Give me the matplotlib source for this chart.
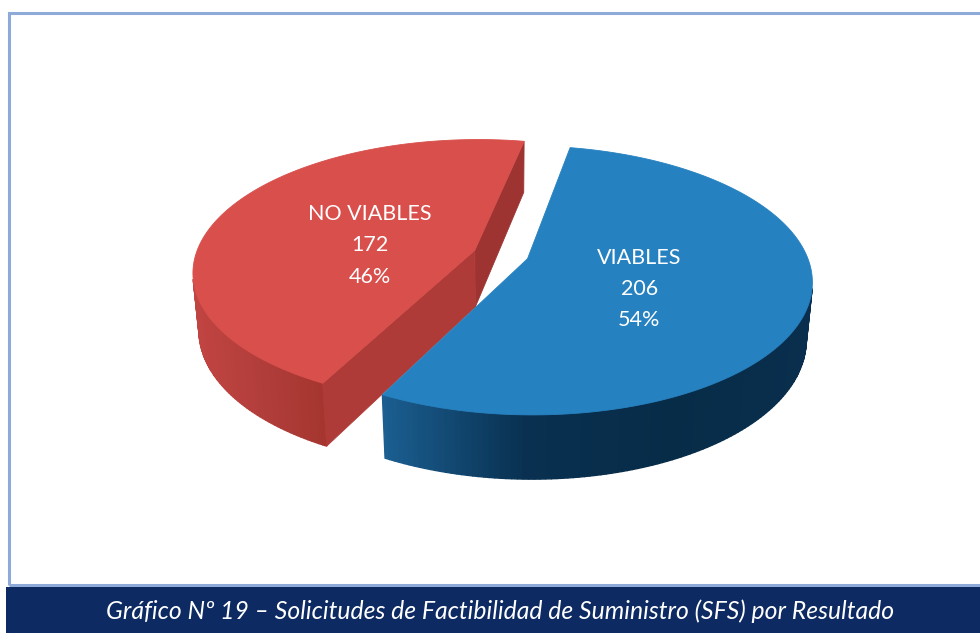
import numpy as np
import matplotlib.pyplot as plt
from matplotlib.patches import Polygon, Rectangle
from matplotlib.colors import LinearSegmentedColormap, Normalize

# datos del gráfico
labels = ['VIABLES', 'NO VIABLES']
values = [206, 172]
top_colors = ['#2681c0', '#d84f4c']
wall_colors = [['#1b5f92', '#093050', '#072c48', '#0a2f4e'],
               ['#c24542', '#b23e3b', '#a5352f']]
radial_colors = ['#0b3354', '#9d3432']
title = 'Gráfico Nº 19 – Solicitudes de Factibilidad de Suministro (SFS) por Resultado'

start_angle = 79      # grados, las porciones van en sentido horario
explode = 0.1

# cámara (pie 3D con perspectiva)
elev = np.radians(27.7)
dist = 5.54
depth = 0.235
scale = 279           # px por radio
W, H = 980, 633
cx_px, cy_px = 501, 254.5

plt.rcParams['font.family'] = ['Lato', 'DejaVu Sans']

cam = np.array([0.0, -dist * np.cos(elev), dist * np.sin(elev)])


def proj(x, y, z):
    x = np.asarray(x, float)
    y = np.asarray(y, float)
    z = np.asarray(z, float)
    d = y * np.cos(elev) - z * np.sin(elev)
    f = dist / (dist + d)
    return x * f, (y * np.sin(elev) + z * np.cos(elev)) * f


def visible(p, n):
    return np.dot(n, cam - p) > 0


fig = plt.figure(figsize=(W / 100, H / 100), dpi=100)
ax = fig.add_axes([0, 0, 1, 1])
ax.set_xlim(-cx_px / scale, (W - cx_px) / scale)
ax.set_ylim(-(H - cy_px) / scale, cy_px / scale)
ax.axis('off')

total = sum(values)
spans = [360 * v / total for v in values]

slices = []
hi = start_angle
for i, v in enumerate(values):
    lo = hi - spans[i]
    slices.append((i, lo, hi))
    hi = lo

# dibujar primero la porción del fondo (la roja)
for i, lo, hi in sorted(slices, key=lambda s: -np.sin(np.radians((s[1] + s[2]) / 2))):
    mid = np.radians((lo + hi) / 2)
    ox, oy = explode * np.cos(mid), explode * np.sin(mid)
    t = np.radians(np.linspace(lo, hi, 200))
    ax_ = ox + np.cos(t)
    ay_ = oy + np.sin(t)

    # pared exterior, por segmentos
    cmap = LinearSegmentedColormap.from_list('w%d' % i, wall_colors[i])
    segs = []
    for k in range(len(t) - 1):
        tm = (t[k] + t[k + 1]) / 2
        pm = np.array([ox + np.cos(tm), oy + np.sin(tm), -depth / 2])
        if not visible(pm, np.array([np.cos(tm), np.sin(tm), 0])):
            continue
        xs = [ax_[k], ax_[k + 1], ax_[k + 1], ax_[k]]
        ys = [ay_[k], ay_[k + 1], ay_[k + 1], ay_[k]]
        zs = [0, 0, -depth, -depth]
        px, py = proj(xs, ys, zs)
        segs.append((pm[1], px, py))
    if segs:
        xmin = min(s[1].min() for s in segs)
        xmax = max(s[1].max() for s in segs)
        norm = Normalize(xmin, xmax)
        for dep, px, py in sorted(segs, key=lambda s: -s[0]):
            c = cmap(norm(px.mean()))
            ax.add_patch(Polygon(np.column_stack([px, py]), closed=True,
                                 facecolor=c, edgecolor=c, lw=1.0))

    # paredes radiales
    for ang, sgn in ((lo, -1), (hi, 1)):
        a = np.radians(ang)
        n = np.array([np.cos(a + sgn * np.pi / 2), np.sin(a + sgn * np.pi / 2), 0])
        pm = np.array([ox + 0.5 * np.cos(a), oy + 0.5 * np.sin(a), -depth / 2])
        if not visible(pm, n):
            continue
        xs = [ox, ox + np.cos(a), ox + np.cos(a), ox]
        ys = [oy, oy + np.sin(a), oy + np.sin(a), oy]
        zs = [0, 0, -depth, -depth]
        px, py = proj(xs, ys, zs)
        shade = radial_colors[i] if sgn < 0 else '#af3b38'
        ax.add_patch(Polygon(np.column_stack([px, py]), closed=True,
                             facecolor=shade, edgecolor=shade, lw=0.6))

    # cara superior
    px, py = proj(np.r_[ox, ax_], np.r_[oy, ay_], np.zeros(len(t) + 1))
    ax.add_patch(Polygon(np.column_stack([px, py]), closed=True,
                         facecolor=top_colors[i], edgecolor=top_colors[i], lw=0.6))

    # etiqueta
    lx, ly = proj(ox + 0.41 * np.cos(mid), oy + 0.41 * np.sin(mid), 0)
    pct = round(100 * values[i] / total)
    ax.text(lx, ly - 12 / scale, '%s\n%d\n%d%%' % (labels[i], values[i], pct),
            ha='center', va='center', color='white', fontsize=15.5,
            linespacing=1.7)

# marco y banda del título
fig.add_artist(Rectangle((8.5 / W, 1 - 585 / H), 1, (585 - 13) / H,
                         transform=fig.transFigure, fill=False,
                         edgecolor='#8eaad8', lw=2.2))
fig.add_artist(Rectangle((6 / W, 0), 1, (H - 586.7) / H,
                         transform=fig.transFigure, facecolor='#0e2a62',
                         edgecolor='none'))
fig.text(500 / W, (H - 611) / H, title, ha='center', va='center',
         color='white', fontsize=17.8, style='italic')

fig.savefig('out.png', dpi=100)
